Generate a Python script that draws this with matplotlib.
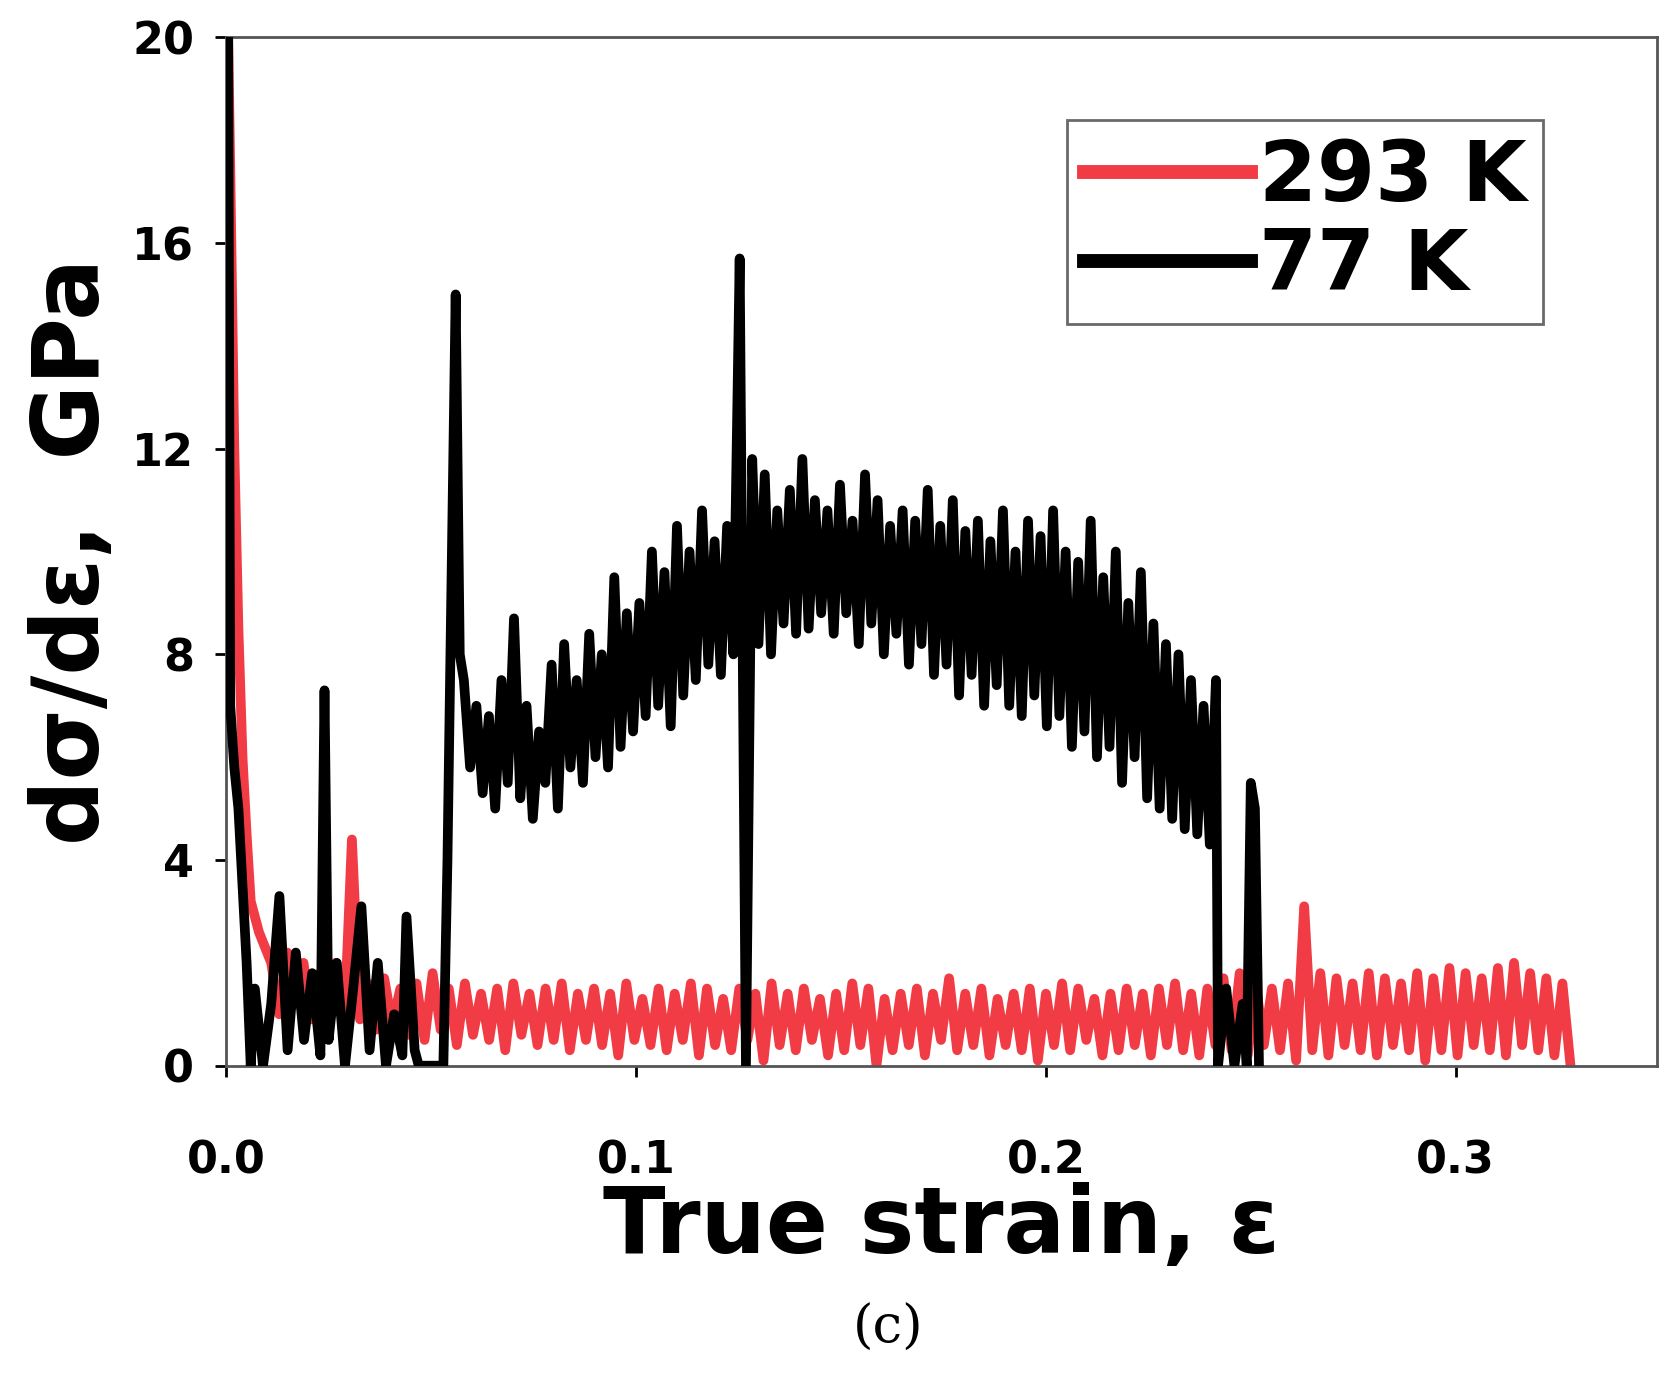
import matplotlib.pyplot as plt
import numpy as np

# 293 K: initial drop, then noisy band around ~1 GPa
red_x0 = [0.0005, 0.001, 0.002, 0.003, 0.004, 0.005, 0.006, 0.008, 0.010]
red_y0 = [20.0, 17.5, 12.0, 8.5, 6.0, 4.5, 3.2, 2.6, 2.2]
red_hi = [2.0, 2.2, 2.0, 1.8, 2.0, 4.4, 1.6, 1.7, 1.5, 1.6, 1.8, 1.5, 1.6, 1.4, 1.5, 1.6, 1.4, 1.5,
          1.6, 1.4, 1.5, 1.4, 1.6, 1.3, 1.5, 1.4, 1.6, 1.5, 1.3, 1.5, 1.4, 1.6, 1.4, 1.5, 1.3, 1.4,
          1.6, 1.5, 1.3, 1.4, 1.5, 1.4, 1.7, 1.4, 1.5, 1.3, 1.4, 1.5, 1.4, 1.6, 1.5, 1.3, 1.4, 1.5,
          1.4, 1.5, 1.6, 1.4, 1.5, 1.7, 1.8, 1.6, 1.5, 1.6, 3.1, 1.8, 1.7, 1.6, 1.8, 1.7, 1.6, 1.8,
          1.7, 1.9, 1.8, 1.7, 1.9, 2.0, 1.8, 1.7, 1.6]
red_lo = [1.0, 1.2, 0.9, 0.8, 0.6, 0.9, 0.7, 0.8, 0.6, 0.5, 0.7, 0.4, 0.6, 0.5, 0.3, 0.6, 0.4, 0.5,
          0.3, 0.5, 0.4, 0.2, 0.5, 0.4, 0.3, 0.5, 0.2, 0.4, 0.3, 0.5, 0.1, 0.4, 0.3, 0.5, 0.2, 0.3,
          0.4, 0.0, 0.3, 0.4, 0.2, 0.5, 0.3, 0.4, 0.2, 0.4, 0.3, 0.1, 0.4, 0.3, 0.5, 0.2, 0.3, 0.4,
          0.2, 0.4, 0.3, 0.2, 0.4, 0.3, 0.2, 0.4, 0.3, 0.1, 0.3, 0.2, 0.4, 0.3, 0.2, 0.4, 0.3, 0.1,
          0.3, 0.2, 0.4, 0.3, 0.2, 0.4, 0.3, 0.2, 0.0]
red_xn = np.linspace(0.011, 0.328, 2 * len(red_hi))

# 77 K
blk_x0 = [0.0005, 0.001, 0.002, 0.003, 0.004, 0.005, 0.006, 0.007, 0.009, 0.011, 0.013, 0.015,
          0.017, 0.019, 0.021, 0.023, 0.024, 0.025, 0.027, 0.029, 0.031, 0.033, 0.035, 0.037,
          0.039, 0.041, 0.043, 0.044, 0.046, 0.047, 0.053, 0.054, 0.056, 0.057]
blk_y0 = [20.0, 7.0, 5.8, 5.0, 3.5, 2.0, 0.0, 1.5, 0.0, 1.2, 3.3, 0.3, 2.2, 0.5, 1.8, 0.2, 7.3,
          0.5, 2.0, 0.0, 1.5, 3.1, 0.3, 2.0, 0.0, 1.0, 0.2, 2.9, 0.3, 0.0, 0.0, 4.0, 15.0, 8.0]
blk_hi = [7.5, 7.0, 6.8, 7.5, 8.7, 7.0, 6.5, 7.8, 8.2, 7.5, 8.4, 8.0, 9.5, 8.8, 9.0, 10.0, 9.6,
          10.5, 10.0, 10.8, 10.2, 10.5, 15.7, 11.8, 11.5, 10.8, 11.2, 11.8, 11.0, 10.8, 11.3, 10.6,
          11.5, 11.0, 10.5, 10.8, 10.6, 11.2, 10.5, 11.0, 10.4, 10.6, 10.2, 10.8, 10.0, 10.6,
          10.3, 10.8, 10.0, 9.8, 10.6, 9.5, 10.0, 9.0, 9.6, 8.6, 8.2, 8.0, 7.5, 7.0]
blk_lo = [5.8, 5.3, 5.0, 5.5, 5.2, 4.8, 5.5, 5.0, 5.8, 5.5, 6.0, 5.8, 6.2, 6.5, 6.8, 7.0, 6.6,
          7.2, 7.5, 7.8, 7.6, 8.0, 0.0, 8.2, 8.0, 8.6, 8.4, 8.5, 8.8, 8.4, 8.8, 8.2, 8.6, 8.0,
          8.4, 7.8, 8.2, 7.6, 7.8, 7.2, 7.6, 7.0, 7.4, 7.0, 6.8, 7.2, 6.6, 6.8, 6.2, 6.5, 6.0,
          6.2, 5.5, 6.0, 5.2, 5.0, 4.8, 4.6, 4.5, 4.3]
blk_xn = np.linspace(0.058, 0.240, 2 * len(blk_hi))
blk_x1 = [0.2415, 0.242, 0.244, 0.246, 0.248, 0.249, 0.250, 0.251, 0.252]
blk_y1 = [7.5, 0.0, 1.5, 0.0, 1.2, 0.0, 5.5, 5.0, 0.0]

def zigzag(hi, lo):
    out = []
    for h, l in zip(hi, lo):
        out += [h, l]
    return out

red_x = list(red_x0) + list(red_xn)
red_y = red_y0 + zigzag(red_hi, red_lo)
blk_x = blk_x0 + list(blk_xn) + blk_x1
blk_y = blk_y0 + zigzag(blk_hi, blk_lo) + blk_y1

fig = plt.figure(figsize=(16.75, 13.84), dpi=100)
ax = fig.add_axes([0.135, 0.23, 0.854, 0.743])
ax.plot(red_x, red_y, color='#f23c45', lw=7, label='293 K', zorder=2)
ax.plot(blk_x, blk_y, color='black', lw=7, label='77 K', zorder=3)
ax.set_xlim(0, 0.349)
ax.set_ylim(0, 20)
ax.set_xticks([0.0, 0.1, 0.2, 0.3])
ax.set_xticklabels(['0.0', '0.1', '0.2', '0.3'])
ax.set_yticks([0, 4, 8, 12, 16, 20])
ax.tick_params(labelsize=32, width=2, length=8)
ax.tick_params(axis='x', pad=45)
ax.tick_params(axis='y', pad=15)
for lab in ax.get_xticklabels() + ax.get_yticklabels():
    lab.set_fontweight('bold')
for s in ax.spines.values():
    s.set_color('#555555')
    s.set_linewidth(2)
ax.set_xlabel('True strain, ε', fontsize=66, fontweight='bold', labelpad=0)
ax.set_ylabel('dσ/dε,  GPa', fontsize=66, fontweight='bold', labelpad=10)
leg = ax.legend(loc='upper right', prop={'size': 60, 'weight': 'bold'}, handlelength=2.0,
                handletextpad=0.1, fancybox=False, edgecolor='#444444', borderpad=0.2,
                labelspacing=0.1, bbox_to_anchor=(0.95, 0.96))
leg.get_frame().set_linewidth(2)
for l in leg.get_lines():
    l.set_linewidth(10)
fig.text(0.53, 0.03, '(c)', fontsize=38, family='DejaVu Serif', ha='center')
fig.savefig('out.png')
